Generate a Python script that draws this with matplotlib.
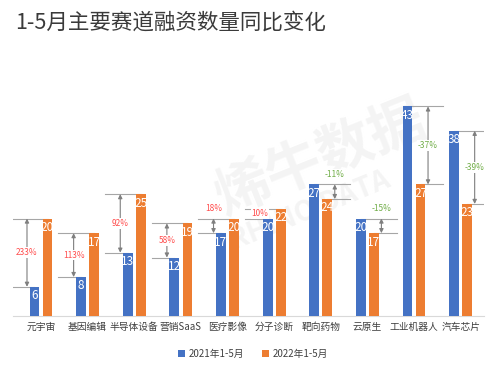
import numpy as np
import matplotlib.pyplot as plt

plt.rcParams['font.family'] = ['Noto Sans CJK SC', 'DejaVu Sans']

categories = ['元宇宙', '基因编辑', '半导体设备', '营销SaaS', '医疗影像',
              '分子诊断', '靶向药物', '云原生', '工业机器人', '汽车芯片']
v2021 = [6, 8, 13, 12, 17, 20, 27, 20, 43, 38]
v2022 = [20, 17, 25, 19, 20, 22, 24, 17, 27, 23]
changes = ['233%', '113%', '92%', '58%', '18%', '10%', '-11%', '-15%', '-37%', '-39%']

blue = '#4472C4'
orange = '#ED7D31'
gray = '#a6a6a6'

fig = plt.figure(figsize=(5, 3.69), dpi=100)
ax = fig.add_axes([0.026, 0.1436, 0.942, 0.634])

x = np.arange(len(categories))
w = 0.21
off = 0.14
b1 = ax.bar(x - off, v2021, w, color=blue, zorder=3, label='2021年1-5月')
b2 = ax.bar(x + off, v2022, w, color=orange, zorder=3, label='2022年1-5月')

# value labels inside bar tops
for xi, a, b in zip(x, v2021, v2022):
    ax.text(xi - off, a - 0.5, str(a), ha='center', va='top', color='white',
            fontsize=8.5, zorder=4)
    ax.text(xi + off, b - 0.5, str(b), ha='center', va='top', color='white',
            fontsize=8.5, zorder=4)

# change brackets
for xi, a, b, c in zip(x, v2021, v2022, changes):
    up = b > a
    side = -1 if up else 1
    hi, lo = max(a, b), min(a, b)
    end = xi + side * 0.63
    ax_x = xi + side * 0.3
    ax.plot([end, xi - off], [a, a], color=gray, lw=0.8, zorder=1)
    ax.plot([end, xi + off], [b, b], color=gray, lw=0.8, zorder=1)
    gap = hi - lo
    if gap >= 3:
        ax.annotate('', xy=(ax_x, hi), xytext=(ax_x, lo),
                    arrowprops=dict(arrowstyle='<|-|>', color='#7f7f7f', lw=0.8,
                                    mutation_scale=6, shrinkA=0, shrinkB=0),
                    zorder=2)
    tcol = '#ff4d4d' if up else '#70AD47'
    if 3 <= gap < 5:
        ty = hi + 2.1
    else:
        ty = (hi + lo) / 2
    ax.text(ax_x, ty, c, ha='center', va='center', color=tcol, fontsize=6,
            zorder=2, bbox=dict(facecolor='white', edgecolor='none', pad=0.5))

ax.set_xlim(-0.6, 9.5)
ax.set_ylim(0, 48)
for s in ['top', 'right', 'left']:
    ax.spines[s].set_visible(False)
ax.spines['bottom'].set_color('#d9d9d9')
ax.set_yticks([])
ax.set_xticks(x)
ax.set_xticklabels(categories, fontsize=7, color='#404040')
ax.tick_params(axis='x', length=0, pad=4)

# watermark, behind everything in the axes
ax.text(0.64, 0.57, '烯牛数据', fontsize=40, color='#f4f4f4', rotation=22,
        ha='center', va='center', fontweight='bold', zorder=0.5,
        transform=fig.transFigure)
ax.text(0.62, 0.43, 'RHINO DATA', fontsize=20, color='#f4f4f4', rotation=22,
        ha='center', va='center', fontweight='bold', zorder=0.5,
        transform=fig.transFigure)

fig.text(0.03, 0.94, '1-5月主要赛道融资数量同比变化', fontsize=15.5, color='#3a3a3a',
         ha='left', va='center', fontweight='medium')

fig.legend(handles=[b1, b2], loc='center', bbox_to_anchor=(0.506, 0.04), ncol=2,
           frameon=False, fontsize=7, handlelength=0.7, handleheight=0.7,
           columnspacing=1.8, handletextpad=0.4, labelcolor='#404040')

fig.savefig('out.png', dpi=100)
